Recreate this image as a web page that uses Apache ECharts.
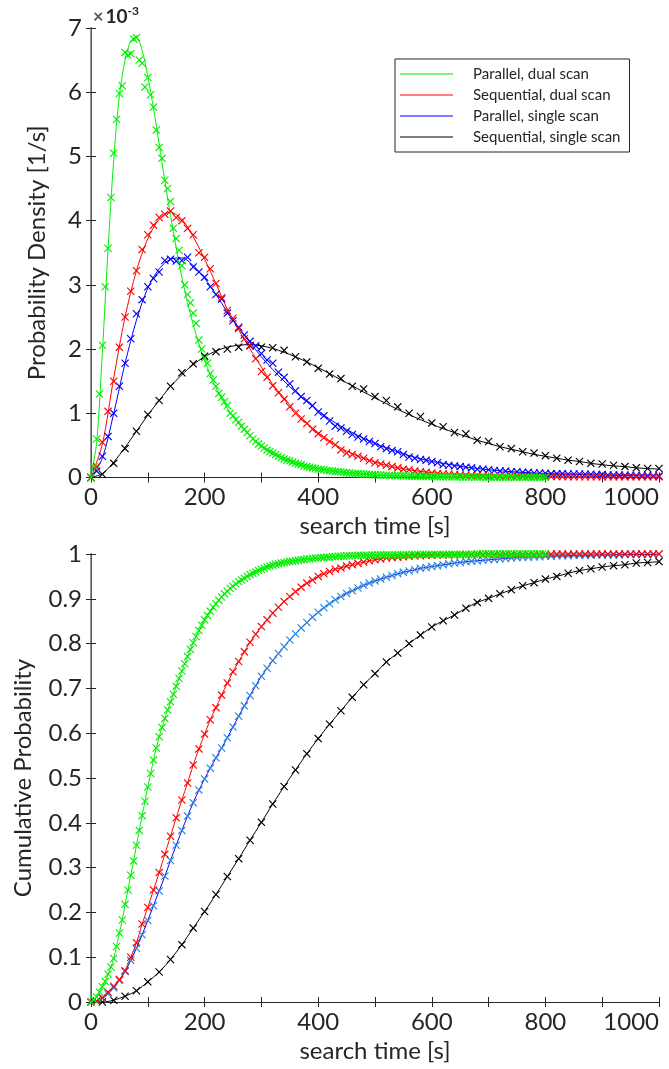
<!DOCTYPE html>
<html style="height: 100%">
   <head>
       <meta charset="utf-8">
   </head>
   <body style="height: 100%; margin: 0; background: #fff">
       <div id="container" style="width: 669px; height: 1069px"></div>
       <script type="text/javascript" src="https://cdn.jsdelivr.net/npm/echarts@6/dist/echarts.min.js"></script>
       <script type="text/javascript">
// --- data -----------------------------------------------------------
var names = ['Parallel, dual scan', 'Sequential, dual scan', 'Parallel, single scan', 'Sequential, single scan'];
// sampling step of the simulated points (s)
var stepGreen = 5, stepRed = 10, stepBlue = 10, stepBlack = 20;
// step of the analytic curves in the upper panel (s)
var lineStepGreen = 10, lineStep = 20;

// probability density, units of 1e-3 1/s : simulated points
var pdfGreen = [0, 0.17, 0.6, 1.3, 2.06, 2.97, 3.57, 4.36, 5.05, 5.58, 5.98, 6.1, 6.62, 6.58, 6.6, 6.83, 6.85, 6.5, 6.45, 6.08, 6.23,
  5.96, 5.77, 5.41, 5.14, 4.97, 4.63, 4.5, 4.3, 3.88, 3.72, 3.54, 3.3, 3.0, 2.85, 2.72, 2.56, 2.4, 2.14, 2.0, 1.86,
  1.78, 1.62, 1.52, 1.42, 1.31, 1.25, 1.18, 1.12, 1.0, 0.96, 0.9, 0.86, 0.8, 0.75, 0.7, 0.65, 0.6, 0.56, 0.52, 0.49,
  0.46, 0.43, 0.4, 0.38, 0.36, 0.33, 0.31, 0.29, 0.27, 0.26, 0.24, 0.22, 0.21, 0.2, 0.18, 0.17, 0.16, 0.15, 0.14, 0.13,
  0.125, 0.12, 0.11, 0.105, 0.1, 0.095, 0.09, 0.085, 0.08, 0.075, 0.07, 0.067, 0.063, 0.06, 0.056, 0.053, 0.05, 0.047, 0.045, 0.042,
  0.04, 0.038, 0.036, 0.034, 0.032, 0.03, 0.029, 0.027, 0.026, 0.025, 0.024, 0.022, 0.021, 0.02, 0.019, 0.018, 0.017, 0.016, 0.016, 0.015,
  0.014, 0.013, 0.013, 0.012, 0.011, 0.011, 0.01, 0.01, 0.009, 0.009, 0.008, 0.008, 0.008, 0.007, 0.007, 0.006, 0.006, 0.006, 0.005, 0.005,
  0.005, 0.005, 0.004, 0.004, 0.004, 0.004, 0.003, 0.003, 0.003, 0.003, 0.003, 0.003, 0.002, 0.002, 0.002, 0.002, 0.002, 0.002, 0.002, 0.002];
var pdfRed = [0, 0.17, 0.55, 1.03, 1.5, 2.03, 2.5, 2.9, 3.22, 3.55, 3.78, 3.93, 4.05, 4.1, 4.15, 4.05, 4.0, 3.88, 3.78, 3.5, 3.43,
  3.25, 3.02, 2.8, 2.6, 2.48, 2.32, 2.16, 2.06, 1.85, 1.65, 1.56, 1.43, 1.32, 1.22, 1.1, 1.0, 0.91, 0.84, 0.75, 0.68,
  0.62, 0.56, 0.51, 0.43, 0.38, 0.36, 0.33, 0.3, 0.26, 0.23, 0.21, 0.19, 0.17, 0.15, 0.13, 0.12, 0.1, 0.09, 0.08, 0.07,
  0.06, 0.055, 0.05, 0.045, 0.04, 0.035, 0.03, 0.03, 0.025, 0.025, 0.02, 0.02, 0.02, 0.02, 0.018, 0.018, 0.017, 0.016, 0.016, 0.015,
  0.015, 0.014, 0.014, 0.013, 0.013, 0.012, 0.012, 0.012, 0.011, 0.011, 0.011, 0.01, 0.01, 0.01, 0.01, 0.01, 0.01, 0.01, 0.01, 0.01];
var pdfBlue = [0, 0.1, 0.33, 0.64, 1.0, 1.42, 1.78, 2.16, 2.55, 2.77, 2.97, 3.1, 3.2, 3.38, 3.4, 3.37, 3.38, 3.43, 3.28, 3.2, 3.12,
  2.97, 2.85, 2.78, 2.56, 2.44, 2.34, 2.22, 2.12, 2.05, 1.93, 1.83, 1.78, 1.64, 1.56, 1.46, 1.35, 1.26, 1.2, 1.12, 1.02,
  0.96, 0.88, 0.8, 0.77, 0.72, 0.67, 0.63, 0.6, 0.56, 0.53, 0.48, 0.45, 0.42, 0.4, 0.36, 0.32, 0.3, 0.28, 0.27, 0.25,
  0.23, 0.2, 0.19, 0.18, 0.17, 0.16, 0.15, 0.13, 0.13, 0.12, 0.11, 0.1, 0.1, 0.09, 0.09, 0.08, 0.08, 0.07, 0.07, 0.065,
  0.06, 0.06, 0.06, 0.055, 0.055, 0.055, 0.05, 0.05, 0.045, 0.045, 0.04, 0.04, 0.04, 0.035, 0.035, 0.03, 0.03, 0.03, 0.025, 0.025];
var pdfBlack = [0, 0.05, 0.22, 0.45, 0.72, 0.98, 1.2, 1.42, 1.63, 1.77, 1.89, 1.96, 2.0, 2.03, 2.05, 2.03, 2.02, 1.98, 1.88, 1.8, 1.7,
  1.61, 1.54, 1.42, 1.38, 1.26, 1.2, 1.1, 1.0, 0.95, 0.85, 0.79, 0.7, 0.68, 0.58, 0.56, 0.48, 0.45, 0.4, 0.38, 0.34,
  0.3, 0.27, 0.25, 0.22, 0.21, 0.19, 0.17, 0.15, 0.14, 0.14];

// probability density, analytic curves
var pdfGreenLine = [0, 0.55, 1.95, 3.55, 4.95, 5.95, 6.5, 6.8, 6.85, 6.65, 6.25, 5.75, 5.2, 4.62, 4.08, 3.58, 3.12, 2.72, 2.38, 2.08, 1.82,
  1.6, 1.4, 1.23, 1.08, 0.95, 0.84, 0.74, 0.65, 0.57, 0.5, 0.44, 0.39, 0.34, 0.3, 0.26, 0.23, 0.2, 0.18, 0.16, 0.14,
  0.12, 0.11, 0.095, 0.085, 0.075, 0.066, 0.058, 0.051, 0.045, 0.04, 0.035, 0.031, 0.027, 0.024, 0.021, 0.018, 0.016, 0.014, 0.012, 0.011,
  0.01, 0.009, 0.008, 0.007, 0.006, 0.005, 0.005, 0.004, 0.004, 0.003, 0.003, 0.003, 0.002, 0.002, 0.002, 0.002, 0.001, 0.001, 0.001, 0.001,
  0.001, 0.001, 0.001, 0.001, 0.001, 0, 0, 0, 0, 0, 0, 0, 0, 0, 0, 0, 0, 0, 0, 0];
var pdfRedLine = [0, 0.52, 1.55, 2.5, 3.22, 3.72, 4.02, 4.13, 4.02, 3.75, 3.4, 3.02, 2.62, 2.3, 2.0, 1.72, 1.45, 1.24, 1.03, 0.85, 0.7,
  0.57, 0.46, 0.37, 0.3, 0.24, 0.19, 0.15, 0.12, 0.095, 0.075, 0.06, 0.048, 0.038, 0.03, 0.024, 0.019, 0.015, 0.012, 0.01, 0.008,
  0.006, 0.005, 0.004, 0.003, 0.003, 0.002, 0.002, 0.002, 0.001, 0.001];
var pdfBlueLine = [0, 0.3, 1.0, 1.78, 2.45, 2.95, 3.25, 3.4, 3.42, 3.3, 3.1, 2.85, 2.58, 2.33, 2.1, 1.88, 1.68, 1.5, 1.33, 1.18, 1.04,
  0.91, 0.8, 0.7, 0.61, 0.53, 0.46, 0.4, 0.34, 0.29, 0.25, 0.22, 0.19, 0.16, 0.14, 0.12, 0.105, 0.09, 0.08, 0.07, 0.062,
  0.056, 0.05, 0.045, 0.04, 0.036, 0.033, 0.03, 0.027, 0.025, 0.023];
var pdfBlackLine = [0, 0.06, 0.24, 0.47, 0.72, 0.97, 1.2, 1.42, 1.6, 1.76, 1.88, 1.97, 2.03, 2.06, 2.07, 2.05, 2.01, 1.95, 1.88, 1.8, 1.71,
  1.62, 1.52, 1.43, 1.33, 1.24, 1.15, 1.06, 0.98, 0.9, 0.83, 0.76, 0.7, 0.64, 0.58, 0.53, 0.48, 0.44, 0.4, 0.36, 0.33,
  0.3, 0.27, 0.25, 0.22, 0.2, 0.18, 0.17, 0.15, 0.14, 0.13];

// cumulative probability
var cdfGreen = [0, 0.005, 0.011, 0.022, 0.034, 0.046, 0.062, 0.078, 0.097, 0.124, 0.154, 0.183, 0.218, 0.25, 0.283, 0.315, 0.35, 0.383, 0.416, 0.448, 0.48,
  0.51, 0.54, 0.567, 0.592, 0.613, 0.633, 0.652, 0.67, 0.687, 0.705, 0.722, 0.739, 0.755, 0.771, 0.787, 0.802, 0.816, 0.829, 0.841, 0.853,
  0.863, 0.872, 0.881, 0.889, 0.897, 0.904, 0.911, 0.917, 0.923, 0.928, 0.933, 0.938, 0.942, 0.946, 0.95, 0.954, 0.957, 0.96, 0.963, 0.966,
  0.968, 0.971, 0.973, 0.975, 0.977, 0.978, 0.98, 0.981, 0.982, 0.983, 0.984, 0.985, 0.986, 0.987, 0.988, 0.989, 0.989, 0.99, 0.991, 0.991,
  0.992, 0.992, 0.993, 0.993, 0.994, 0.994, 0.995, 0.995, 0.995, 0.996, 0.996, 0.996, 0.996, 0.997, 0.997, 0.997, 0.997, 0.997, 0.998, 0.998,
  0.998, 0.998, 0.998, 0.998, 0.998, 0.998, 0.998, 0.998, 0.998, 0.998, 0.998, 0.998, 0.999, 0.999, 0.999, 0.999, 0.999, 0.999, 0.999, 0.999,
  0.999, 0.999, 0.999, 0.999, 0.999, 0.999, 0.999, 0.999, 0.999, 0.999, 0.999, 0.999, 0.999, 0.999, 0.999, 1, 1, 1, 1, 1,
  1, 1, 1, 1, 1, 1, 1, 1, 1, 1, 1, 1, 1, 1, 1, 1, 1, 1, 1, 1];
var cdfRed = [0, 0.002, 0.01, 0.022, 0.035, 0.05, 0.07, 0.1, 0.132, 0.174, 0.211, 0.25, 0.289, 0.33, 0.37, 0.411, 0.451, 0.489, 0.529, 0.565, 0.598,
  0.63, 0.657, 0.685, 0.712, 0.737, 0.76, 0.782, 0.803, 0.821, 0.838, 0.853, 0.868, 0.881, 0.894, 0.905, 0.916, 0.926, 0.935, 0.942, 0.95,
  0.956, 0.961, 0.966, 0.969, 0.973, 0.976, 0.979, 0.982, 0.985, 0.987, 0.989, 0.991, 0.992, 0.993, 0.994, 0.995, 0.996, 0.996, 0.997, 0.997,
  0.998, 0.998, 0.998, 0.998, 0.999, 0.999, 0.999, 0.999, 0.999, 0.999, 0.999, 0.999, 0.999, 0.999, 0.999, 0.999, 0.999, 0.999, 0.999, 0.999,
  1, 1, 1, 1, 1, 1, 1, 1, 1, 1, 1, 1, 1, 1, 1, 1, 1, 1, 1, 1];
var cdfBlue = [0, 0.002, 0.008, 0.018, 0.032, 0.048, 0.068, 0.093, 0.12, 0.15, 0.182, 0.215, 0.248, 0.281, 0.316, 0.35, 0.383, 0.415, 0.445, 0.473, 0.498,
  0.522, 0.545, 0.567, 0.59, 0.614, 0.638, 0.661, 0.684, 0.706, 0.727, 0.745, 0.762, 0.778, 0.793, 0.808, 0.822, 0.835, 0.847, 0.859, 0.87,
  0.88, 0.889, 0.898, 0.905, 0.912, 0.918, 0.924, 0.93, 0.935, 0.94, 0.944, 0.948, 0.952, 0.956, 0.959, 0.962, 0.965, 0.968, 0.97, 0.972,
  0.974, 0.976, 0.978, 0.98, 0.981, 0.983, 0.984, 0.985, 0.986, 0.987, 0.988, 0.989, 0.99, 0.991, 0.992, 0.993, 0.993, 0.994, 0.994, 0.995,
  0.995, 0.996, 0.996, 0.996, 0.997, 0.997, 0.997, 0.997, 0.998, 0.998, 0.998, 0.998, 0.998, 0.999, 0.999, 0.999, 0.999, 0.999, 0.999, 1.0];
var cdfBlack = [0, 0, 0.004, 0.013, 0.025, 0.045, 0.067, 0.095, 0.128, 0.165, 0.202, 0.24, 0.28, 0.32, 0.361, 0.401, 0.442, 0.481, 0.518, 0.554, 0.588,
  0.62, 0.65, 0.68, 0.708, 0.733, 0.759, 0.779, 0.8, 0.819, 0.837, 0.851, 0.864, 0.879, 0.892, 0.901, 0.911, 0.92, 0.929, 0.936, 0.944,
  0.95, 0.957, 0.963, 0.967, 0.971, 0.974, 0.976, 0.98, 0.981, 0.983];

// --- chart -----------------------------------------------------------
var FONT = 'Lato';
var TXT = '#262626';
var FS = 24;
var cross = 'path://M0,1L1,0L5,4L9,0L10,1L6,5L10,9L9,10L5,6L1,10L0,9L4,5Z';

function pts(values, step) {
    return values.map(function (v, i) { return [i * step, v]; });
}

function lineSeries(name, values, step, color, k) {
    return {
        name: name, type: 'line', xAxisIndex: 2 * k, yAxisIndex: 2 * k,
        data: pts(values, step), smooth: 0.3, showSymbol: false, symbol: 'none',
        lineStyle: { color: color, width: 1 }, itemStyle: { color: color },
        silent: true, z: 2
    };
}

function markSeries(name, values, step, color, k) {
    return {
        name: name + ' pts', type: 'scatter', xAxisIndex: 2 * k, yAxisIndex: 2 * k,
        data: pts(values, step), symbol: cross, symbolSize: 8,
        itemStyle: { color: color, opacity: 1 }, silent: true, z: 3
    };
}

function xAxes(k) {
    return [{
        gridIndex: k, type: 'value', min: 0, max: 1000, interval: 100, position: 'bottom',
        name: 'search time [s]', nameLocation: 'middle', nameGap: 37,
        nameTextStyle: { fontFamily: FONT, fontSize: FS, color: TXT },
        axisLine: { lineStyle: { color: TXT, width: 1 } },
        axisTick: { inside: true, length: 5, lineStyle: { color: TXT } },
        axisLabel: { margin: 8, fontFamily: FONT, fontSize: FS, color: TXT, alignMaxLabel: 'right',
            formatter: function (v) { return v % 200 === 0 ? String(v) : ''; } },
        splitLine: { show: false }
    }, {
        gridIndex: k, type: 'value', min: 0, max: 1000, interval: 100, position: 'top',
        axisLine: { lineStyle: { color: TXT, width: 1 } },
        axisTick: { inside: true, length: 5, lineStyle: { color: TXT } },
        axisLabel: { show: false }, splitLine: { show: false }
    }];
}

function yAxes(k, max, interval, name, gap) {
    return [{
        gridIndex: k, type: 'value', min: 0, max: max, interval: interval, position: 'left',
        name: name, nameLocation: 'middle', nameGap: gap,
        nameTextStyle: { fontFamily: FONT, fontSize: FS, color: TXT },
        axisLine: { show: true, lineStyle: { color: TXT, width: 1 } },
        axisTick: { show: true, inside: true, length: 5, lineStyle: { color: TXT } },
        axisLabel: { margin: 9, fontFamily: FONT, fontSize: FS, color: TXT },
        splitLine: { show: false }
    }, {
        gridIndex: k, type: 'value', min: 0, max: max, interval: interval, position: 'right',
        axisLine: { show: true, lineStyle: { color: '#6e6e6e', width: 1.5 } },
        axisTick: { show: true, inside: true, length: 5, lineStyle: { color: TXT } },
        axisLabel: { show: false }, splitLine: { show: false }
    }];
}

var dom = document.getElementById('container');
var myChart = echarts.init(dom, null, { renderer: 'canvas' });

var colors = ['#00f000', '#ff0000', '#0000ff', '#000000'];
var cdfMarkColors = ['#00f000', '#ff0000', '#2b86d9', '#000000'];
var legendColors = ['#80f080', '#ff8080', '#8080ff', '#808080'];

var series = [
    lineSeries(names[3], pdfBlackLine, lineStep, colors[3], 0),
    markSeries(names[3], pdfBlack, stepBlack, colors[3], 0),
    lineSeries(names[2], pdfBlueLine, lineStep, colors[2], 0),
    markSeries(names[2], pdfBlue, stepBlue, colors[2], 0),
    lineSeries(names[1], pdfRedLine, lineStep, colors[1], 0),
    markSeries(names[1], pdfRed, stepRed, colors[1], 0),
    lineSeries(names[0], pdfGreenLine, lineStepGreen, colors[0], 0),
    markSeries(names[0], pdfGreen, stepGreen, colors[0], 0),

    lineSeries(names[3] + ' cdf', cdfBlack, stepBlack, colors[3], 1),
    markSeries(names[3] + ' cdf', cdfBlack, stepBlack, cdfMarkColors[3], 1),
    lineSeries(names[2] + ' cdf', cdfBlue, stepBlue, colors[2], 1),
    markSeries(names[2] + ' cdf', cdfBlue, stepBlue, cdfMarkColors[2], 1),
    lineSeries(names[1] + ' cdf', cdfRed, stepRed, colors[1], 1),
    markSeries(names[1] + ' cdf', cdfRed, stepRed, cdfMarkColors[1], 1),
    lineSeries(names[0] + ' cdf', cdfGreen, stepGreen, colors[0], 1),
    markSeries(names[0] + ' cdf', cdfGreen, stepGreen, cdfMarkColors[0], 1)
];

var option = {
    animation: false,
    backgroundColor: '#ffffff',
    title: {
        left: 88, top: 0,
        text: '{x|×}{b|10}{s|-3}',
        textStyle: {
            rich: {
                x: { fontFamily: FONT, fontSize: 18, color: '#555', padding: [0, 2, 0, 0] },
                b: { fontFamily: FONT, fontSize: 19, color: TXT },
                s: { fontFamily: FONT, fontSize: 12, color: TXT, verticalAlign: 'top', lineHeight: 24 }
            }
        }
    },
    legend: {
        orient: 'vertical', left: 395, top: 59,
        backgroundColor: '#fff', borderColor: TXT, borderWidth: 1,
        padding: [7, 9, 7, 5], itemGap: 5,
        icon: 'rect', itemWidth: 53, itemHeight: 2,
        textStyle: { fontFamily: FONT, fontSize: 15, color: TXT, lineHeight: 16, padding: [0, 0, 0, 15] },
        data: names.map(function (n, i) {
            return { name: n, itemStyle: { color: legendColors[i] } };
        }),
        selectedMode: false
    },
    grid: [
        { left: 91, top: 28, width: 568, height: 449.5, containLabel: false, outerBoundsMode: 'none' },
        { left: 91, top: 554, width: 568, height: 448, containLabel: false, outerBoundsMode: 'none' }
    ],
    xAxis: xAxes(0).concat(xAxes(1)),
    yAxis: yAxes(0, 7, 1, 'Probability Density [1/s]', 42).concat(yAxes(1, 1, 0.1, 'Cumulative Probability', 56)),
    series: series
};

if (option && typeof option === "object") {
    myChart.setOption(option, true);
}
       </script>
   </body>
</html>
